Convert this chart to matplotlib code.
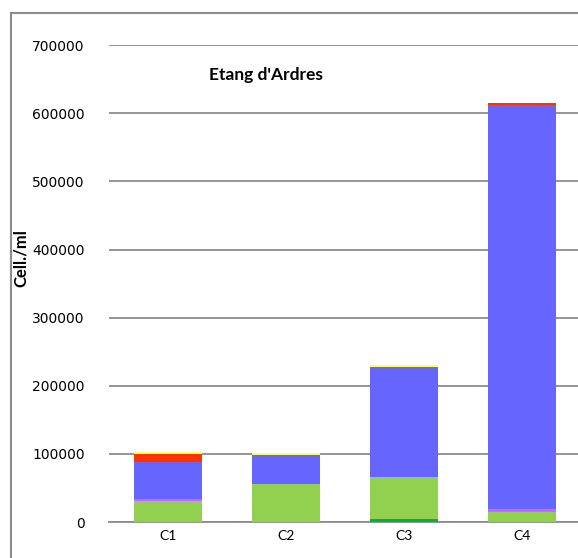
import matplotlib
matplotlib.use('Agg')
import matplotlib.pyplot as plt
import numpy as np
from matplotlib.patches import Rectangle

# data (cells/ml), stacked bottom -> top
cats = ['C1', 'C2', 'C3', 'C4']
tan = [600, 600, 600, 600]
dark_green = [0, 0, 3500, 0]
green = [30500, 55200, 62000, 14400]
violet = [2700, 0, 0, 4000]
blue = [54500, 42200, 162000, 593800]
red = [11700, 0, 0, 2900]
yellow = [2200, 2800, 2000, 0]

series = [tan, dark_green, green, violet, blue, red, yellow]
colors = ['#C8A882', '#00B050', '#92D050', '#CC66FF', '#6666FF', '#FF3300', '#FFFF66']

fig = plt.figure(figsize=(5.78, 5.58), dpi=100)
ax = fig.add_axes([0.1886, 0.0645, 0.8166, 0.8545])

x = np.arange(len(cats))
bottom = np.zeros(len(cats))
for vals, c in zip(series, colors):
    ax.bar(x, vals, 0.574, bottom=bottom, color=c, zorder=3)
    bottom += np.array(vals)

ax.set_ylim(0, 700000)
ax.set_xlim(-0.5, 3.5)
ax.set_yticks(np.arange(0, 700001, 100000))
ax.set_xticks(x)
ax.set_xticklabels(cats, family='Lato', fontsize=10.5)
ax.yaxis.grid(True, color='#8c8c8c', linewidth=1.3, zorder=0)
for s in ['top', 'right', 'left']:
    ax.spines[s].set_visible(False)
ax.spines['bottom'].set_color('#8c8c8c')
ax.spines['bottom'].set_linewidth(1.3)
ax.tick_params(axis='both', length=0, labelsize=10)
ax.tick_params(axis='y', pad=17.5)
ax.tick_params(axis='x', pad=6)

ax.text(0.332, 0.937, "Etang d'Ardres", transform=ax.transAxes, ha='center', va='center',
        fontsize=12.5, fontweight='bold', family='Lato')
fig.text(0.036, 0.538, 'Cell./ml', rotation=90, ha='center', va='center',
         fontsize=12, fontweight='bold', family='Lato')

# outer chart frame
fig.patches.append(Rectangle((0.019, -0.05), 1.1, 1.027, transform=fig.transFigure,
                             fill=False, edgecolor='#8c8c8c', linewidth=1.5))

fig.savefig('out.png', dpi=100)
